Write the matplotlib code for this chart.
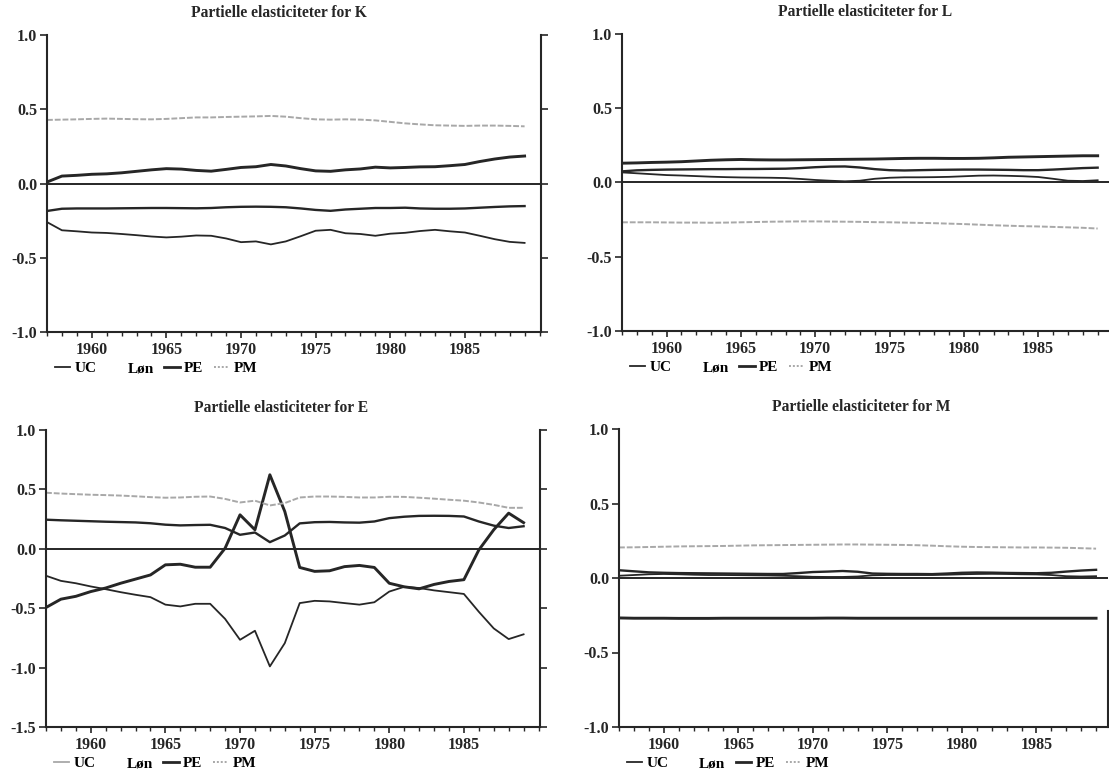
import matplotlib
matplotlib.use("Agg")
import matplotlib.pyplot as plt
from matplotlib.lines import Line2D
from matplotlib.ticker import MultipleLocator, FixedLocator

plt.rcParams['font.family'] = ['Liberation Serif', 'DejaVu Serif']
plt.rcParams['font.weight'] = 'bold'

years = list(range(1957, 1990))
xticks = [1960, 1965, 1970, 1975, 1980, 1985]
series_names = ["UC", "Løn", "PE", "PM"]

# ---- K panel ----
K_UC = [-0.26, -0.315, -0.322, -0.33, -0.333, -0.34, -0.348, -0.357, -0.363, -0.358, -0.35,
        -0.352, -0.37, -0.395, -0.39, -0.41, -0.39, -0.355, -0.318, -0.312, -0.335, -0.34,
        -0.352, -0.338, -0.332, -0.32, -0.312, -0.322, -0.33, -0.352, -0.375, -0.393, -0.40]
K_Lon = [-0.185, -0.17, -0.168, -0.168, -0.168, -0.167, -0.166, -0.165, -0.165, -0.166, -0.167,
         -0.165, -0.16, -0.157, -0.156, -0.157, -0.16, -0.168, -0.178, -0.184, -0.175, -0.17,
         -0.165, -0.165, -0.163, -0.168, -0.17, -0.17, -0.168, -0.163, -0.158, -0.154, -0.152]
K_PE = [0.01, 0.05, 0.055, 0.062, 0.065, 0.072, 0.082, 0.092, 0.10, 0.097, 0.088, 0.083, 0.095,
        0.108, 0.113, 0.128, 0.118, 0.10, 0.085, 0.082, 0.092, 0.098, 0.11, 0.105, 0.108, 0.112,
        0.113, 0.12, 0.128, 0.148, 0.165, 0.178, 0.185]
K_PM = [0.428, 0.43, 0.432, 0.435, 0.437, 0.435, 0.433, 0.432, 0.435, 0.44, 0.445, 0.445, 0.448,
        0.45, 0.452, 0.455, 0.45, 0.44, 0.432, 0.43, 0.432, 0.43, 0.425, 0.415, 0.405, 0.398,
        0.392, 0.39, 0.388, 0.39, 0.39, 0.388, 0.385]

# ---- L panel ----
L_UC = [0.068, 0.062, 0.056, 0.05, 0.047, 0.043, 0.039, 0.036, 0.034, 0.033, 0.032, 0.03, 0.024,
        0.017, 0.012, 0.008, 0.012, 0.025, 0.032, 0.035, 0.035, 0.036, 0.038, 0.042, 0.046, 0.047,
        0.045, 0.042, 0.037, 0.025, 0.012, 0.01, 0.015]
L_Lon = [0.075, 0.082, 0.085, 0.087, 0.088, 0.089, 0.09, 0.09, 0.091, 0.091, 0.092, 0.093, 0.097,
         0.103, 0.107, 0.108, 0.101, 0.09, 0.083, 0.081, 0.083, 0.085, 0.086, 0.087, 0.087, 0.086,
         0.085, 0.083, 0.083, 0.087, 0.092, 0.097, 0.1]
L_PE = [0.13, 0.132, 0.135, 0.137, 0.14, 0.145, 0.15, 0.153, 0.155, 0.153, 0.152, 0.152, 0.153,
        0.154, 0.155, 0.156, 0.157, 0.158, 0.16, 0.162, 0.163, 0.163, 0.162, 0.162, 0.163, 0.166,
        0.17, 0.172, 0.174, 0.176, 0.178, 0.18, 0.18]
L_PM = [-0.268, -0.268, -0.268, -0.269, -0.27, -0.27, -0.271, -0.27, -0.268, -0.266, -0.264,
        -0.263, -0.262, -0.262, -0.263, -0.264, -0.265, -0.267, -0.268, -0.27, -0.272, -0.274,
        -0.277, -0.28, -0.284, -0.288, -0.291, -0.294, -0.296, -0.299, -0.302, -0.305, -0.31]

# ---- E panel ----
E_UC = [-0.227, -0.27, -0.29, -0.317, -0.34, -0.365, -0.387, -0.407, -0.47, -0.485, -0.463,
        -0.463, -0.59, -0.766, -0.69, -0.99, -0.794, -0.457, -0.438, -0.443, -0.457, -0.47,
        -0.45, -0.36, -0.32, -0.33, -0.35, -0.365, -0.38, -0.53, -0.67, -0.76, -0.72]
E_Lon = [0.245, 0.24, 0.236, 0.232, 0.228, 0.225, 0.222, 0.215, 0.203, 0.197, 0.2, 0.202, 0.175,
         0.118, 0.137, 0.056, 0.112, 0.214, 0.224, 0.226, 0.222, 0.22, 0.23, 0.258, 0.27, 0.277,
         0.278, 0.277, 0.272, 0.23, 0.195, 0.175, 0.19]
E_PE = [-0.494, -0.424, -0.40, -0.36, -0.33, -0.29, -0.255, -0.22, -0.135, -0.13, -0.155, -0.155,
        0.005, 0.286, 0.16, 0.623, 0.314, -0.157, -0.19, -0.185, -0.15, -0.14, -0.157, -0.29,
        -0.32, -0.337, -0.30, -0.275, -0.26, -0.01, 0.16, 0.30, 0.22]
E_PM = [0.472, 0.465, 0.46, 0.455, 0.452, 0.448, 0.442, 0.435, 0.43, 0.432, 0.438, 0.44, 0.42,
        0.39, 0.405, 0.365, 0.385, 0.432, 0.44, 0.44, 0.437, 0.432, 0.432, 0.438, 0.437, 0.43,
        0.422, 0.413, 0.405, 0.39, 0.37, 0.345, 0.345]

# ---- M panel ----
M_UC = [0.015, 0.02, 0.025, 0.027, 0.025, 0.022, 0.02, 0.02, 0.019, 0.018, 0.017, 0.015, 0.012,
        0.008, 0.007, 0.007, 0.01, 0.018, 0.02, 0.02, 0.02, 0.02, 0.022, 0.025, 0.027, 0.028,
        0.027, 0.025, 0.024, 0.02, 0.012, 0.01, 0.012]
M_Lon = [0.052, 0.045, 0.038, 0.035, 0.033, 0.032, 0.031, 0.03, 0.029, 0.028, 0.027, 0.027, 0.033,
         0.04, 0.043, 0.047, 0.042, 0.03, 0.028, 0.027, 0.027, 0.026, 0.03, 0.035, 0.037, 0.036,
         0.034, 0.033, 0.032, 0.035, 0.043, 0.05, 0.055]
M_PE = [-0.268, -0.27, -0.27, -0.27, -0.271, -0.271, -0.271, -0.27, -0.27, -0.27, -0.27, -0.27,
        -0.27, -0.27, -0.269, -0.269, -0.27, -0.27, -0.27, -0.27, -0.27, -0.27, -0.27, -0.27,
        -0.27, -0.27, -0.27, -0.27, -0.27, -0.27, -0.27, -0.27, -0.27]
M_PM = [0.205, 0.206, 0.208, 0.21, 0.212, 0.213, 0.214, 0.215, 0.217, 0.219, 0.22, 0.221, 0.222,
        0.223, 0.224, 0.225, 0.225, 0.224, 0.223, 0.222, 0.22, 0.217, 0.213, 0.21, 0.208, 0.207,
        0.206, 0.205, 0.205, 0.204, 0.203, 0.2, 0.197]

BLACK = "#262626"
GRAY = "#a8a8a8"
styles = {
    "UC": dict(color=BLACK, lw=1.3, ls="-"),
    "Løn": dict(color=BLACK, lw=1.7, ls="-"),
    "PE": dict(color=BLACK, lw=2.1, ls="-"),
    "PM": dict(color=GRAY, lw=1.4, ls=(0, (3, 1))),
}

W, H = 1109, 773
panels = [
    dict(title="Partielle elasticiteter for K", data=[K_UC, K_Lon, K_PE, K_PM],
         px=(47, 35, 541, 332), ylim=(-1.0, 1.0), yticks=[-1.0, -0.5, 0.0, 0.5, 1.0],
         xlim=(1957, 1990.1), right=True, rbounds=None, tx=0.47, ucleg=BLACK),
    dict(title="Partielle elasticiteter for L", data=[L_UC, L_Lon, L_PE, L_PM],
         px=(622, 34, 1114, 331), ylim=(-1.0, 1.0), yticks=[-1.0, -0.5, 0.0, 0.5, 1.0],
         xlim=(1957, 1990.1), right=False, rbounds=None, tx=0.494, ucleg=BLACK),
    dict(title="Partielle elasticiteter for E", data=[E_UC, E_Lon, E_PE, E_PM],
         px=(46, 430, 540, 727), ylim=(-1.5, 1.0), yticks=[-1.5, -1.0, -0.5, 0.0, 0.5, 1.0],
         xlim=(1957, 1990.1), right=True, rbounds=None, tx=0.475, ucleg=GRAY),
    dict(title="Partielle elasticiteter for M", data=[M_UC, M_Lon, M_PE, M_PM],
         px=(619, 429, 1108, 727), ylim=(-1.0, 1.0), yticks=[-1.0, -0.5, 0.0, 0.5, 1.0],
         xlim=(1957, 1989.8), right=True, rbounds=(-1.0, -0.22), tx=0.496, ucleg=BLACK),
]

fig = plt.figure(figsize=(W / 100, H / 100), dpi=100)

for p in panels:
    x0, y0, x1, y1 = p["px"]
    ax = fig.add_axes([x0 / W, 1 - y1 / H, (x1 - x0) / W, (y1 - y0) / H])
    ax.set_xlim(*p["xlim"])
    ax.set_ylim(*p["ylim"])
    ax.axhline(0.0, color=BLACK, lw=1.4, zorder=1)
    for name, vals in zip(series_names, p["data"]):
        ax.plot(years, vals, **styles[name], zorder=2)
    ax.spines["top"].set_visible(False)
    for s in ("left", "bottom", "right"):
        ax.spines[s].set_linewidth(1.5)
        ax.spines[s].set_color(BLACK)
    if not p["right"]:
        ax.spines["right"].set_visible(False)
    elif p["rbounds"] is not None:
        ax.spines["right"].set_bounds(*p["rbounds"])
    ax.xaxis.set_major_locator(FixedLocator(xticks))
    ax.xaxis.set_minor_locator(MultipleLocator(1))
    ax.yaxis.set_major_locator(FixedLocator(p["yticks"]))
    ax.set_yticklabels([f"{v:.1f}" for v in p["yticks"]])
    ax.tick_params(axis="x", which="major", direction="out", length=4, width=1.2,
                   labelsize=11.5, pad=3, colors=BLACK)
    ax.tick_params(axis="x", which="minor", direction="out", length=3, width=1.0, colors=BLACK)
    right_ticks = p["right"] and p["rbounds"] is None
    ax.tick_params(axis="y", which="major", direction="out", length=5, width=1.2,
                   labelsize=11.5, pad=2, colors=BLACK, right=right_ticks, labelright=False)
    ax.text(p["tx"], 1.0 + 22 / 297, p["title"], transform=ax.transAxes, ha="center",
            va="center", fontsize=11.2, fontweight="bold", color=BLACK)
    handles = [
        Line2D([], [], color=p["ucleg"], lw=1.3),
        Line2D([], [], color="none", lw=1.3),
        Line2D([], [], color=BLACK, lw=2.0),
        Line2D([], [], color=GRAY, lw=1.4, ls=(0, (1, 1))),
    ]
    ax.legend(handles, series_names, loc="center left", bbox_to_anchor=(0.016, -0.122),
              ncol=4, frameon=False, fontsize=11, handlelength=1.0, handletextpad=0.3,
              columnspacing=0.7, borderaxespad=0, borderpad=0)

fig.savefig("out.png", dpi=100)
